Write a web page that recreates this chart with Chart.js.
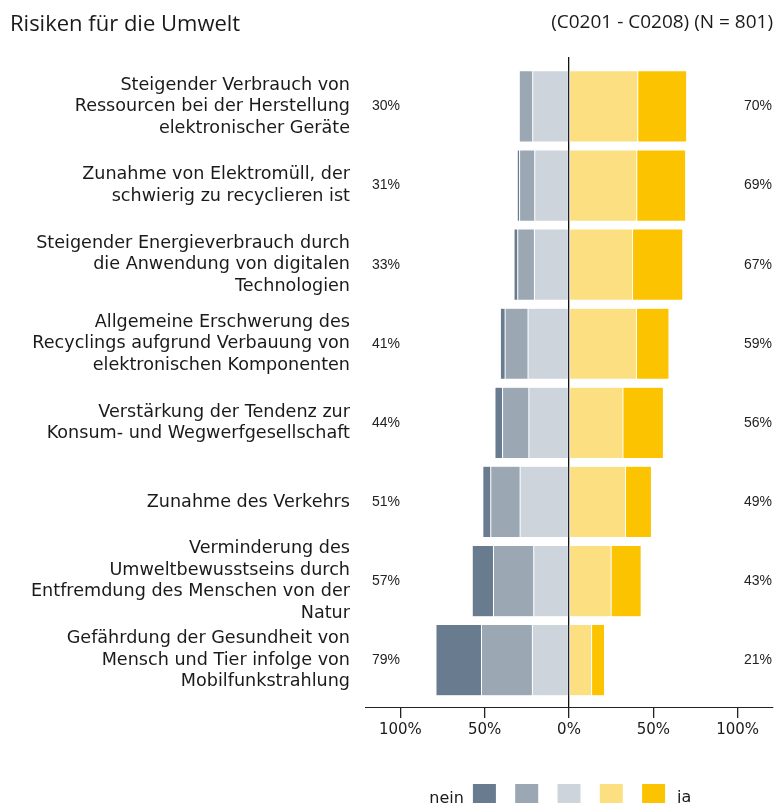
<!DOCTYPE html>
<html lang="de">
<head>
<meta charset="utf-8">
<title>Risiken für die Umwelt</title>
<script src="https://cdn.jsdelivr.net/npm/chart.js@4.4.1/dist/chart.umd.min.js"></script>
<style>
  body { margin: 0; background: #fff; }
  #wrap { position: relative; width: 775px; height: 803px; overflow: hidden; }
  #titel { position: absolute; left: 10px; top: 7px; font: 22px "Open Sans", sans-serif; color: #1a1a1a; }
  #info { position: absolute; right: 2px; top: 8px; font: 19px "Open Sans", sans-serif; color: #1a1a1a; }
  canvas { position: absolute; left: 0; top: 0; }
</style>
</head>
<body>
<div id="wrap">
  <canvas id="grafik" width="775" height="803"></canvas>
  <div id="titel">Risiken für die Umwelt</div>
  <div id="info">(C0201 - C0208) (N = 801)</div>
</div>
<script>
// Aussagen (Kategorien)
const kategorien = [
    ['Steigender Verbrauch von', 'Ressourcen bei der Herstellung', 'elektronischer Geräte'],
    ['Zunahme von Elektromüll, der', 'schwierig zu recyclieren ist'],
    ['Steigender Energieverbrauch durch', 'die Anwendung von digitalen', 'Technologien'],
    ['Allgemeine Erschwerung des', 'Recyclings aufgrund Verbauung von', 'elektronischen Komponenten'],
    ['Verstärkung der Tendenz zur', 'Konsum- und Wegwerfgesellschaft'],
    ['Zunahme des Verkehrs'],
    ['Verminderung des', 'Umweltbewusstseins durch', 'Entfremdung des Menschen von der', 'Natur'],
    ['Gefährdung der Gesundheit von', 'Mensch und Tier infolge von', 'Mobilfunkstrahlung']
];

// Anteile in Prozent
const neinStark = [0.5, 1.4, 2.2, 2.8, 4.5, 4.7, 12.6, 27.0];
const neinMittel = [8.0, 9.0, 9.9, 13.6, 15.6, 17.4, 23.9, 30.2];
const neinSchwach = [21.5, 20.3, 20.5, 24.3, 23.8, 29.0, 20.9, 21.7];
const jaSchwach = [40.8, 40.2, 37.7, 40.0, 32.0, 33.5, 25.0, 13.4];
const jaStark = [29.0, 29.0, 29.8, 19.3, 24.0, 15.4, 17.8, 7.7];

// Summen-Beschriftungen
const neinTexte = ['30%', '31%', '33%', '41%', '44%', '51%', '57%', '79%'];
const jaTexte = ['70%', '69%', '67%', '59%', '56%', '49%', '43%', '21%'];

// Achse
const achsenTicks = [-100, -50, 0, 50, 100];

const farben = ['#687b8f', '#9ba8b4', '#cdd4dc', '#fcdf80', '#fcc400'];

const randFarbe = 'rgba(255,255,255,0.5)';

// Prozentwerte links und rechts neben den Balken
const summenPlugin = {
    id: 'summen',
    afterDatasetsDraw(chart) {
        const ctx = chart.ctx;
        const bereich = chart.chartArea;
        const y = chart.scales.y;
        ctx.save();
        ctx.font = '14px "Liberation Sans", Arial, sans-serif';
        ctx.fillStyle = '#222';
        ctx.textBaseline = 'middle';
        ctx.textAlign = 'right';
        kategorien.forEach((k, i) => {
            const py = y.getPixelForValue(i);
            ctx.fillText(neinTexte[i], bereich.left + 35, py);
            ctx.fillText(jaTexte[i], bereich.right - 1, py);
        });
        ctx.restore();
    }
};

// Legende unten: nein [] [] [] [] [] ja
const legendePlugin = {
    id: 'legende',
    afterDraw(chart) {
        const ctx = chart.ctx;
        const mitte = chart.scales.x.getPixelForValue(0);
        const abstand = 42.3;
        const box = 23;
        const oben = chart.height - 19;
        ctx.save();
        farben.forEach((f, k) => {
            ctx.fillStyle = f;
            ctx.fillRect(mitte + (k - 2) * abstand - box / 2, oben, box, box);
        });
        ctx.font = '16px "DejaVu Sans", sans-serif';
        ctx.fillStyle = '#1a1a1a';
        ctx.textBaseline = 'alphabetic';
        ctx.textAlign = 'right';
        ctx.fillText('nein', mitte - 2 * abstand - box / 2 - 9, chart.height);
        ctx.textAlign = 'left';
        ctx.fillText('ja', mitte + 2 * abstand + box / 2 + 12, chart.height - 1);
        ctx.restore();
    }
};

const datensaetze = [
    { label: 'eher nein', data: neinSchwach.map(v => -v), backgroundColor: farben[2] },
    { label: 'nein', data: neinMittel.map(v => -v), backgroundColor: farben[1] },
    { label: 'gar nicht', data: neinStark.map(v => -v), backgroundColor: farben[0] },
    { label: 'eher ja', data: jaSchwach, backgroundColor: farben[3] },
    { label: 'ja', data: jaStark, backgroundColor: farben[4] }
].map(d => Object.assign(d, {
    borderColor: randFarbe,
    borderWidth: 0.5,
    borderSkipped: false,
    barPercentage: 0.9,
    categoryPercentage: 1
}));

new Chart(document.getElementById('grafik'), {
    type: 'bar',
    data: { labels: kategorien, datasets: datensaetze },
    options: {
        indexAxis: 'y',
        responsive: false,
        animation: false,
        layout: { padding: { top: 57, right: 2, left: 0, bottom: 0 } },
        plugins: {
            legend: { display: false },
            tooltip: { enabled: false }
        },
        scales: {
            x: {
                stacked: true,
                min: -121,
                max: 121,
                afterBuildTicks(scale) {
                    scale.ticks = achsenTicks.map(v => ({ value: v }));
                },
                afterFit(scale) {
                    scale.height = 96;
                },
                grid: {
                    drawOnChartArea: true,
                    color: c => (c.tick && c.tick.value === 0) ? '#111' : 'transparent',
                    lineWidth: 1.3,
                    tickColor: '#222',
                    tickLength: 11
                },
                border: { display: true, color: '#222', width: 1 },
                ticks: {
                    padding: 3,
                    color: '#1a1a1a',
                    font: { family: '"DejaVu Sans", sans-serif', size: 15 },
                    callback: v => Math.abs(v) + '%'
                }
            },
            y: {
                stacked: true,
                afterBuildTicks(scale) {
                    // etwas Luft oben und unten wie im Original
                    scale._startValue = -0.625;
                    scale._valueRange = kategorien.length + 0.217;
                },
                afterFit(scale) {
                    scale.width = 365;
                },
                grid: { display: false, drawTicks: false },
                border: { display: false },
                ticks: {
                    autoSkip: false,
                    padding: 15,
                    color: '#1a1a1a',
                    font: { family: '"DejaVu Sans", sans-serif', size: 17.6, lineHeight: '21.5px' }
                }
            }
        }
    },
    plugins: [summenPlugin, legendePlugin]
});
</script>
</body>
</html>
